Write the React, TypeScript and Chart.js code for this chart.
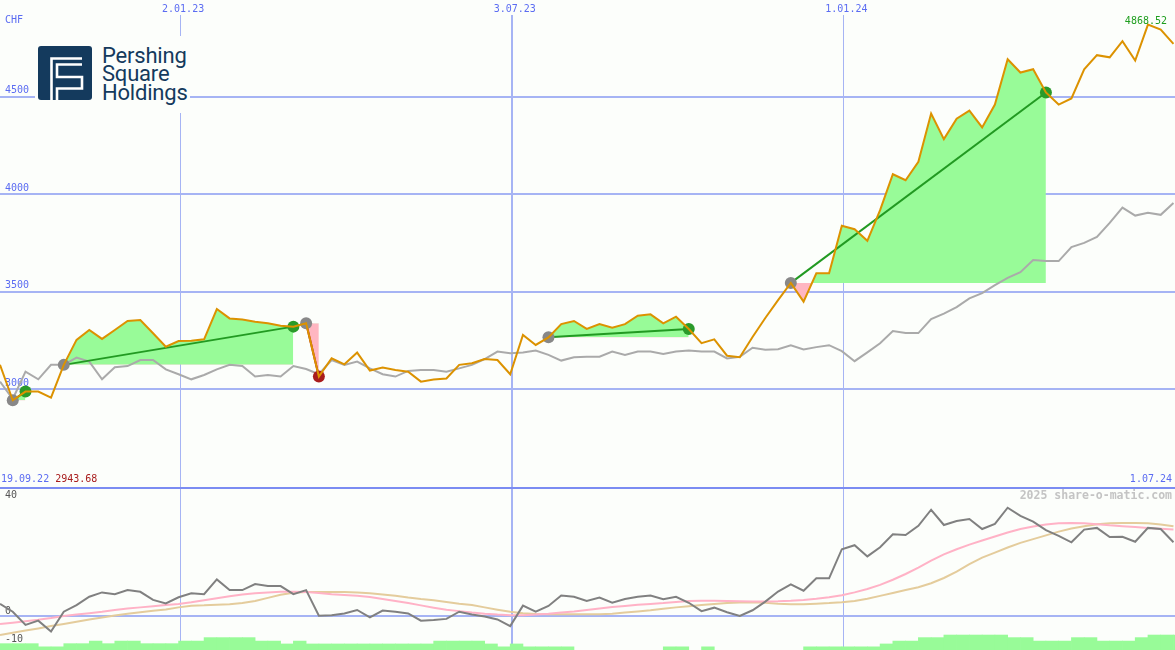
import React, { useEffect, useRef } from 'react';
import { Chart, registerables } from 'chart.js';

Chart.register(...registerables);

// ---- data (weekly points, x = week index) ----
const prices = [
  3125, 2943.68, 2988, 2988, 2957, 3125, 3253, 3304, 3258, 3304,
  3350, 3355, 3287, 3218, 3247, 3249, 3256, 3411, 3363, 3358,
  3346, 3338, 3326, 3321, 3338, 3065, 3159, 3128, 3188, 3096,
  3111, 3099, 3090, 3039, 3050, 3055, 3125, 3133, 3155, 3150,
  3077, 3278, 3227, 3266, 3334, 3350, 3309, 3334, 3316, 3334,
  3377, 3384, 3338, 3372, 3309, 3236, 3256, 3172, 3164, 3268,
  3365, 3457, 3545, 3449, 3594, 3594, 3838, 3820, 3761, 3918,
  4102, 4071, 4166, 4413, 4282, 4387, 4428, 4342, 4459, 4691,
  4623, 4640, 4521, 4459, 4490, 4640, 4712, 4701, 4784, 4685,
  4868.52, 4843, 4770,
];
const benchmark = [
  3039, 2950, 3090, 3051, 3125, 3125, 3162, 3142, 3051, 3113,
  3119, 3150, 3150, 3102, 3077, 3051, 3073, 3102, 3125, 3119,
  3065, 3073, 3065, 3119, 3104, 3077, 3150, 3125, 3142, 3107,
  3077, 3065, 3094, 3099, 3099, 3090, 3107, 3125, 3155, 3193,
  3184, 3188, 3198, 3176, 3147, 3164, 3167, 3167, 3193, 3176,
  3193, 3193, 3181, 3193, 3198, 3193, 3193, 3158, 3166, 3213,
  3203, 3205, 3225, 3204, 3216, 3226, 3195, 3144, 3189, 3236,
  3298, 3288, 3288, 3360, 3388, 3421, 3466, 3493, 3534, 3571,
  3600, 3662, 3657, 3657, 3729, 3750, 3781, 3853, 3931, 3890,
  3904, 3894, 3955,
];
const momentum = [
  4.2, 1.5, -3.1, -1.6, -5.4, 1.5, 3.8, 6.7, 8.2, 7.6,
  9.0, 8.4, 5.6, 4.4, 6.5, 7.9, 7.6, 12.7, 9.0, 9.0,
  11.1, 10.4, 10.4, 7.6, 9.0, 0.1, 0.3, 0.9, 2.1, -0.5,
  1.9, 1.5, 0.9, -1.6, -1.4, -1.0, 1.5, 0.5, -0.2, -1.2,
  -3.5, 3.6, 1.5, 3.5, 7.1, 6.7, 5.2, 6.4, 4.6, 5.9,
  6.7, 7.1, 5.8, 6.7, 4.6, 1.7, 2.9, 1.3, 0.0, 2.0,
  5.0, 8.5, 11.0, 8.8, 13.1, 13.1, 23.2, 24.6, 20.7, 23.9,
  28.4, 28.1, 31.3, 36.9, 31.6, 33.0, 33.7, 30.2, 32.0, 37.6,
  34.8, 32.8, 29.8, 27.8, 25.6, 30.0, 30.6, 27.4, 27.5, 25.8,
  30.6, 30.2, 25.6,
];
const avgFast = [
  -2.8, -2.3, -1.8, -1.3, -0.7, 0.0, 0.5, 1.0, 1.5, 2.1,
  2.6, 3.0, 3.4, 3.8, 4.2, 4.8, 5.5, 6.2, 6.9, 7.5,
  7.9, 8.2, 8.4, 8.4, 8.3, 8.0, 7.6, 7.3, 7.0, 6.6,
  5.9, 5.2, 4.5, 3.7, 2.9, 2.2, 1.7, 1.2, 0.8, 0.5,
  0.3, 0.3, 0.5, 0.8, 1.2, 1.6, 2.1, 2.6, 3.1, 3.5,
  3.9, 4.2, 4.5, 4.9, 5.2, 5.3, 5.3, 5.2, 5.1, 5.0,
  5.0, 5.1, 5.3, 5.6, 6.0, 6.5, 7.2, 8.2, 9.4, 10.8,
  12.6, 14.6, 16.8, 19.2, 21.4, 23.2, 24.8, 26.2, 27.6, 29.0,
  30.2, 31.1, 31.8, 32.2, 32.3, 32.2, 31.9, 31.5, 31.2, 30.9,
  30.6, 30.3, 30.0,
];
const avgSlow = [
  -6.6, -5.8, -5.0, -4.3, -3.5, -2.8, -2.0, -1.2, -0.5, 0.2,
  0.8, 1.3, 1.8, 2.3, 3.0, 3.6, 3.7, 3.9, 4.1, 4.5,
  5.2, 6.3, 7.4, 8.1, 8.3, 8.3, 8.3, 8.3, 8.2, 7.9,
  7.5, 7.0, 6.4, 5.9, 5.5, 4.9, 4.3, 3.8, 3.0, 2.2,
  1.5, 1.0, 0.7, 0.6, 0.6, 0.6, 0.6, 0.6, 0.8, 1.2,
  1.6, 2.0, 2.5, 3.0, 3.4, 3.8, 4.2, 4.5, 4.7, 4.8,
  4.6, 4.3, 4.1, 4.1, 4.3, 4.5, 4.8, 5.2, 6.0, 7.0,
  8.0, 9.0, 10.0, 11.4, 13.2, 15.4, 18.0, 20.3, 22.0, 23.8,
  25.4, 26.7, 28.0, 29.3, 30.4, 31.2, 31.9, 32.2, 32.3, 32.3,
  32.2, 31.8, 31.2,
];
const histogram = [
  -9.6, -9.6, -9.6, -10.7, -10.7, -9.6, -9.6, -8.7, -9.6, -8.7,
  -8.7, -9.6, -9.6, -9.6, -8.7, -8.7, -7.5, -7.5, -7.5, -7.5,
  -8.7, -8.7, -9.7, -8.7, -9.7, -9.7, -9.7, -9.7, -9.7, -9.7,
  -9.7, -9.7, -9.7, -9.7, -8.7, -8.7, -8.7, -8.7, -9.7, -10.7,
  -9.7, -10.7, -10.7, -10.7, -10.7, null, null, null, null, null,
  null, null, -10.7, -10.7, null, -10.7, null, null, null, null,
  null, null, null, -10.7, -10.7, -10.7, -10.7, -10.7, -10.7, -9.7,
  -8.7, -8.7, -7.5, -7.5, -6.6, -6.6, -6.6, -6.6, -6.6, -7.5,
  -7.5, -8.7, -8.7, -8.7, -7.5, -7.5, -8.7, -8.7, -8.7, -7.5,
  -6.6, -6.6, -6.6,
];

const entryIdx = [1, 5, 24, 43, 62];
const exitIdx = [2, 23, 25, 54, 82];

const dateTickPos = [14.12, 40.12, 66.12];
const dateTickLabels = ['2.01.23', '3.07.23', '1.01.24'];
const startDateLabel = '19.09.22';
const endDateLabel = '1.07.24';
const currencyLabel = 'CHF';
const priceTicks = [3000, 3500, 4000, 4500];
const lowerTicks = [40, 0, -10];
const watermark = '2025 share-o-matic.com';

const X_MAX = 92.12;
const UP_MIN = 2494;
const UP_MAX = 4918;
const LO_MIN = -11.8;
const LO_MAX = 44.8;

// ---- styles ----
const BG = '#fcfefb';
const GRID = '#a6b4f4';
const SEP = '#7b8cf2';
const BLUE_TXT = '#5b6cf2';
const ORANGE = '#dc9200';
const GREY_LINE = '#aaaaaa';
const FILL_GREEN = '#98fb98';
const FILL_PINK = '#ffb6c1';
const TRADE_GREEN = '#229a22';
const MARK_GREY = '#888888';
const MARK_GREEN = '#2a9a2a';
const MARK_RED = '#a81c1c';
const RED_TXT = '#a81c1c';
const GREEN_TXT = '#1e9e1e';
const MOM = '#808080';
const PINK = '#ffb2c6';
const TAN = '#e4cc9c';
const NAVY = '#143a5d';
const MONO = '"DejaVu Sans Mono", monospace';

const pts = (arr: (number | null)[]) => arr.map((v, i) => ({ x: i, y: v }));

function zeroPad(s: any) {
  s.paddingTop = 0;
  s.paddingBottom = 0;
  s.paddingLeft = 0;
  s.paddingRight = 0;
}

export default function App() {
  const upRef = useRef<HTMLCanvasElement | null>(null);
  const loRef = useRef<HTMLCanvasElement | null>(null);

  useEffect(() => {
    const maxPrice = Math.max(...prices);
    const minPrice = Math.min(...prices);

    const fillSets = entryIdx.map((e, k) => {
      const x = exitIdx[k];
      return {
        type: 'line',
        data: prices.slice(e, x + 1).map((v, j) => ({ x: e + j, y: v })),
        borderWidth: 0,
        borderColor: 'rgba(0,0,0,0)',
        pointRadius: 0,
        fill: { target: { value: prices[e] }, above: FILL_GREEN, below: FILL_PINK },
      };
    });
    const tradeLines = entryIdx.map((e, k) => {
      const x = exitIdx[k];
      return {
        type: 'line',
        data: [{ x: e, y: prices[e] }, { x, y: prices[x] }],
        borderColor: prices[x] >= prices[e] ? TRADE_GREEN : MARK_RED,
        borderWidth: 2,
        pointRadius: 0,
        fill: false,
      };
    });

    const upperText = {
      id: 'upperText',
      afterDraw(chart: any) {
        const { ctx, width } = chart;
        ctx.save();
        ctx.font = `10px ${MONO}`;
        ctx.textBaseline = 'middle';
        ctx.textAlign = 'left';
        ctx.fillStyle = BLUE_TXT;
        ctx.fillText(currencyLabel, 5, 20);
        ctx.fillText(startDateLabel, 1, 479);
        const w = ctx.measureText(startDateLabel + ' ').width;
        ctx.fillStyle = RED_TXT;
        ctx.fillText(minPrice.toFixed(2), 1 + w, 479);
        ctx.textAlign = 'right';
        ctx.fillStyle = BLUE_TXT;
        ctx.fillText(endDateLabel, width - 3, 479);
        ctx.fillStyle = GREEN_TXT;
        ctx.fillText(maxPrice.toFixed(2), width - 8, 21);
        ctx.restore();
      },
    };

    const up = new Chart(upRef.current as HTMLCanvasElement, {
      type: 'line',
      data: {
        datasets: [
          { data: pts(prices), borderColor: ORANGE, borderWidth: 2, pointRadius: 0, fill: false },
          {
            data: exitIdx.map((x) => ({ x, y: prices[x] })),
            showLine: false,
            pointRadius: 6,
            pointBorderWidth: 0,
            pointBackgroundColor: exitIdx.map((x, k) => (prices[x] >= prices[entryIdx[k]] ? MARK_GREEN : MARK_RED)),
          },
          {
            data: entryIdx.map((e) => ({ x: e, y: prices[e] })),
            showLine: false,
            pointRadius: 6,
            pointBorderWidth: 0,
            pointBackgroundColor: MARK_GREY,
          },
          ...tradeLines,
          { data: pts(benchmark), borderColor: GREY_LINE, borderWidth: 2, pointRadius: 0, fill: false },
          ...fillSets,
        ] as any,
      },
      options: {
        animation: false,
        responsive: false,
        devicePixelRatio: 1,
        events: [],
        layout: { padding: 0, autoPadding: false },
        elements: { line: { tension: 0 } },
        plugins: { legend: { display: false }, tooltip: { enabled: false }, filler: { propagate: false } },
        scales: {
          x: {
            type: 'linear',
            position: 'top',
            min: 0,
            max: X_MAX,
            afterBuildTicks: (s: any) => {
              s.ticks = dateTickPos.map((v) => ({ value: v }));
            },
            afterFit: (s: any) => {
              s.height = 15;
              zeroPad(s);
            },
            ticks: {
              autoSkip: false,
              maxRotation: 0,
              padding: 0,
              labelOffset: 3,
              color: BLUE_TXT,
              font: { family: 'DejaVu Sans Mono', size: 10 },
              callback: (_v: any, i: number) => dateTickLabels[i],
            },
            grid: {
              drawTicks: false,
              color: GRID,
              lineWidth: (c: any) => (c.index === 1 ? 2 : 1),
            },
            border: { display: false },
          },
          y: {
            type: 'linear',
            min: UP_MIN,
            max: UP_MAX,
            afterBuildTicks: (s: any) => {
              s.ticks = priceTicks.map((v) => ({ value: v }));
            },
            afterFit: (s: any) => {
              s.width = 0;
              zeroPad(s);
            },
            ticks: {
              mirror: true,
              padding: 5,
              labelOffset: -6,
              color: BLUE_TXT,
              font: { family: 'DejaVu Sans Mono', size: 10 },
              callback: (v: any) => String(v),
            },
            grid: { drawTicks: false, color: GRID, lineWidth: 2 },
            border: { display: false },
          },
        },
      } as any,
      plugins: [upperText],
    });

    const lowerText = {
      id: 'lowerText',
      afterDraw(chart: any) {
        const { ctx, width } = chart;
        ctx.save();
        ctx.fillStyle = SEP;
        ctx.fillRect(0, 0, width, 2);
        ctx.font = `bold 11.5px ${MONO}`;
        ctx.textBaseline = 'middle';
        ctx.textAlign = 'right';
        ctx.fillStyle = '#c4c4c4';
        ctx.fillText(watermark, width - 3, 9);
        ctx.restore();
      },
    };

    const lo = new Chart(loRef.current as HTMLCanvasElement, {
      type: 'line',
      data: {
        datasets: [
          { data: pts(momentum), borderColor: MOM, borderWidth: 2, pointRadius: 0, fill: false },
          { data: pts(avgFast), borderColor: PINK, borderWidth: 2, pointRadius: 0, fill: false },
          { data: pts(avgSlow), borderColor: TAN, borderWidth: 2, pointRadius: 0, fill: false },
          {
            type: 'bar',
            data: histogram.map((v, i) => ({ x: i + 0.5, y: v === null ? null : [LO_MIN - 1, v] })),
            backgroundColor: FILL_GREEN,
            borderWidth: 0,
            barPercentage: 1,
            categoryPercentage: 1,
            grouped: false,
          },
        ] as any,
      },
      options: {
        animation: false,
        responsive: false,
        devicePixelRatio: 1,
        events: [],
        layout: { padding: 0, autoPadding: false },
        elements: { line: { tension: 0 } },
        plugins: { legend: { display: false }, tooltip: { enabled: false } },
        scales: {
          x: {
            type: 'linear',
            position: 'bottom',
            offset: false,
            min: 0,
            max: X_MAX,
            afterBuildTicks: (s: any) => {
              s.ticks = dateTickPos.map((v) => ({ value: v }));
            },
            afterFit: (s: any) => {
              s.height = 0;
              zeroPad(s);
            },
            ticks: { display: false },
            grid: {
              drawTicks: false,
              color: GRID,
              lineWidth: (c: any) => (c.index === 1 ? 2 : 1),
              offset: false,
            },
            border: { display: false },
          },
          y: {
            type: 'linear',
            min: LO_MIN,
            max: LO_MAX,
            afterBuildTicks: (s: any) => {
              s.ticks = lowerTicks.map((v) => ({ value: v }));
            },
            afterFit: (s: any) => {
              s.width = 0;
              zeroPad(s);
            },
            ticks: {
              mirror: true,
              padding: 5,
              labelOffset: -5,
              color: '#555555',
              font: { family: 'DejaVu Sans Mono', size: 10 },
              callback: (v: any) => String(v),
            },
            grid: {
              drawTicks: false,
              color: (c: any) => (c.tick && c.tick.value === 0 ? GRID : 'rgba(0,0,0,0)'),
              lineWidth: 2,
            },
            border: { display: false },
          },
        },
      } as any,
      plugins: [lowerText],
    });

    return () => {
      up.destroy();
      lo.destroy();
    };
  }, []);

  return (
    <div style={{ position: 'absolute', left: 0, top: 0, width: 1175, height: 650, background: BG, overflow: 'hidden' }}>
      <canvas ref={upRef} width={1175} height={488} style={{ position: 'absolute', left: 0, top: 0 }} />
      <canvas ref={loRef} width={1175} height={163} style={{ position: 'absolute', left: 0, top: 487 }} />
      <div style={{ position: 'absolute', left: 35, top: 36, width: 155, height: 77, background: BG }}>
        <svg width={54} height={54} style={{ position: 'absolute', left: 3, top: 10 }}>
          <rect x={0} y={0} width={54} height={54} rx={3} fill={NAVY} />
          <path d="M13.5 54 V12.5 H44" stroke="#ffffff" strokeWidth={2.6} fill="none" />
          <path d="M44 18.5 H19 V31 H44 V42.5 H19 V54" stroke="#ffffff" strokeWidth={2.6} fill="none" />
        </svg>
        <div
          style={{
            position: 'absolute',
            left: 67,
            top: 11,
            fontFamily: 'Roboto, sans-serif',
            fontSize: 22,
            lineHeight: '18.3px',
            color: NAVY,
            whiteSpace: 'nowrap',
            letterSpacing: '-0.2px',
          }}
        >
          Pershing
          <br />
          Square
          <br />
          Holdings
        </div>
      </div>
    </div>
  );
}
